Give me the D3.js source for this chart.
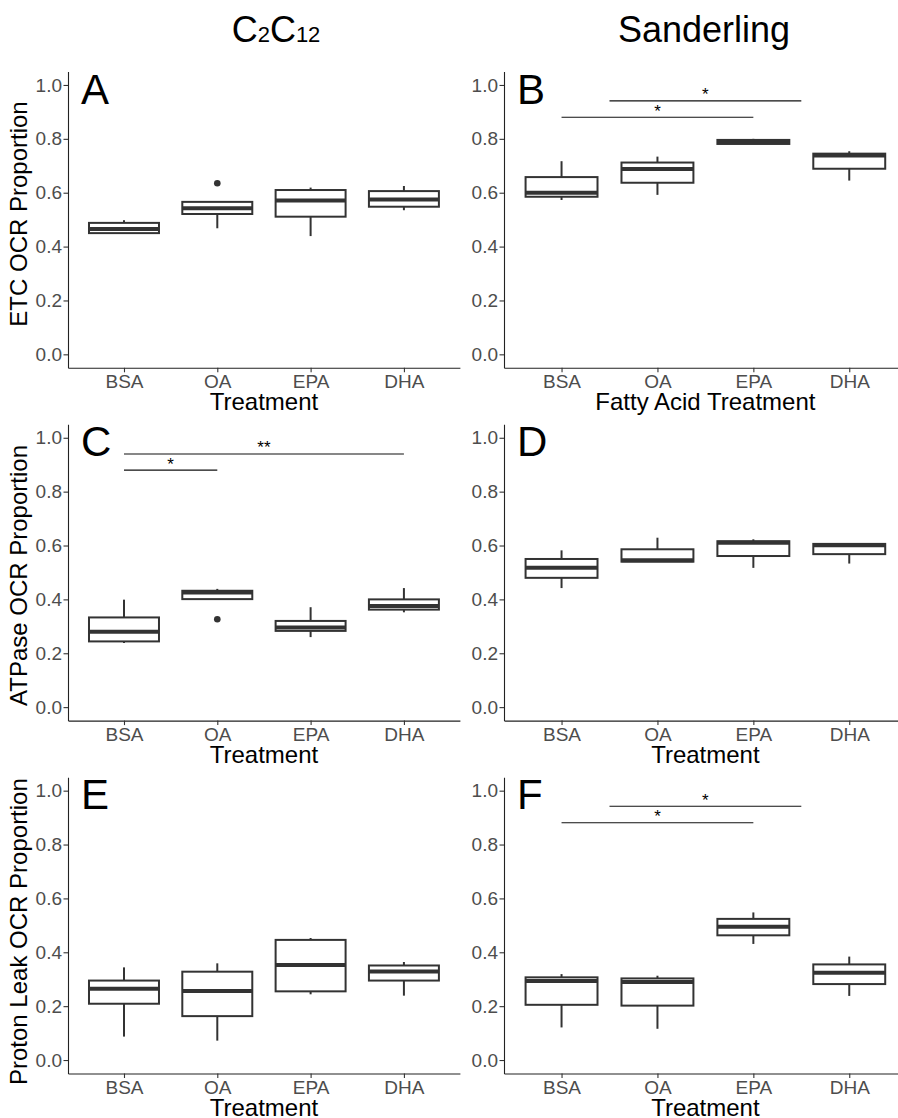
<!DOCTYPE html>
<html>
<head>
<meta charset="utf-8">
<script src="https://cdn.jsdelivr.net/npm/d3@7"></script>
<style>
  body { margin: 0; background: #fff; }
  text { font-family: "Liberation Sans", Arial, sans-serif; }
</style>
</head>
<body>
<script>
// categories and labels
const treatments = ["BSA", "OA", "EPA", "DHA"];
const yTicks = [0, 0.2, 0.4, 0.6, 0.8, 1.0];
const panelLetters = ["A", "B", "C", "D", "E", "F"];
const yTitles = ["ETC OCR Proportion", "ATPase OCR Proportion", "Proton Leak OCR Proportion"];
const xTitles = ["Treatment", "Fatty Acid Treatment", "Treatment", "Treatment", "Treatment", "Treatment"];

// box stats per treatment: [lower whisker, q1, median, q3, upper whisker]
const statsA = [[0.450, 0.450, 0.465, 0.488, 0.498], [0.468, 0.521, 0.542, 0.566, 0.566], [0.439, 0.511, 0.571, 0.610, 0.619], [0.535, 0.548, 0.575, 0.606, 0.625]];
const statsB = [[0.573, 0.585, 0.600, 0.658, 0.717], [0.592, 0.637, 0.688, 0.712, 0.734], [0.781, 0.781, 0.788, 0.796, 0.800], [0.645, 0.689, 0.738, 0.745, 0.754]];
const statsC = [[0.238, 0.244, 0.280, 0.333, 0.399], [0.401, 0.401, 0.426, 0.432, 0.439], [0.260, 0.283, 0.296, 0.320, 0.371], [0.352, 0.362, 0.375, 0.400, 0.442]];
const statsD = [[0.442, 0.480, 0.517, 0.550, 0.582], [0.540, 0.540, 0.545, 0.586, 0.629], [0.517, 0.561, 0.610, 0.616, 0.623], [0.533, 0.568, 0.601, 0.606, 0.606]];
const statsE = [[0.087, 0.209, 0.265, 0.295, 0.344], [0.072, 0.163, 0.256, 0.328, 0.359], [0.244, 0.255, 0.353, 0.446, 0.453], [0.239, 0.295, 0.329, 0.351, 0.364]];
const statsF = [[0.121, 0.205, 0.293, 0.307, 0.319], [0.116, 0.202, 0.290, 0.303, 0.313], [0.431, 0.463, 0.495, 0.524, 0.548], [0.238, 0.282, 0.324, 0.355, 0.384]];

// outliers per treatment
const outA = [[], [0.635], [], []];
const outC = [[], [0.326], [], []];
const none = [[], [], [], []];

// significance brackets: from / to are category indices (0 = BSA)
const sigB = [{ from: 0, to: 2, y: 0.880, label: "*" }, { from: 0.5, to: 2.5, y: 0.941, label: "*" }];
const sigC = [{ from: 0, to: 1, y: 0.880, label: "*" }, { from: 0, to: 3, y: 0.940, label: "**" }];
const sigF = [{ from: 0, to: 2, y: 0.881, label: "*" }, { from: 0.5, to: 2.5, y: 0.942, label: "*" }];

const panels = [
    { stats: statsA, outliers: outA, sig: [] },
    { stats: statsB, outliers: none, sig: sigB },
    { stats: statsC, outliers: outC, sig: sigC },
    { stats: statsD, outliers: none, sig: [] },
    { stats: statsE, outliers: none, sig: [] },
    { stats: statsF, outliers: none, sig: sigF }
];

// layout
const width = 898, height = 1118;
const colRange = [[68, 459.9], [504, 906.8]];
const rowTop = [71.5, 424.3, 777.2];
const panelH = 296.3;
const yTitleCenter = [214, 575.5, 931.6];
const boxColor = "#333333";

const svg = d3.select("body").append("svg")
    .attr("width", width)
    .attr("height", height);

// column titles
const t1 = svg.append("text")
    .attr("x", 276).attr("y", 42)
    .attr("text-anchor", "middle")
    .style("font-size", "36px");
t1.append("tspan").text("C");
t1.append("tspan").style("font-size", "22px").text("2");
t1.append("tspan").text("C");
t1.append("tspan").style("font-size", "22px").text("12");

svg.append("text")
    .attr("x", 704).attr("y", 42)
    .attr("text-anchor", "middle")
    .style("font-size", "36px")
    .text("Sanderling");

panels.forEach((p, i) => {
    const col = i % 2, row = Math.floor(i / 2);
    const top = rowTop[row];
    const bottom = top + panelH;

    const x = d3.scalePoint()
        .domain(treatments)
        .range(colRange[col])
        .padding(0.6);

    const y = d3.scaleLinear()
        .domain([-0.05, 1.05])
        .range([bottom, top]);

    const x0 = colRange[col][0];
    const xAt = k => x(treatments[0]) + k * x.step();
    const bw = x.step() * 0.75;

    const g = svg.append("g");

    // y axis
    const ya = g.append("g")
        .attr("transform", `translate(${x0},0)`)
        .call(d3.axisLeft(y).tickValues(yTicks).tickFormat(d3.format(".1f")).tickSize(4.5).tickSizeOuter(0).tickPadding(1.5));

    // x axis
    const xa = g.append("g")
        .attr("transform", `translate(0,${bottom})`)
        .call(d3.axisBottom(x).tickSize(4.5).tickSizeOuter(0).tickPadding(2.5));

    [ya, xa].forEach(a => {
        a.select(".domain").attr("stroke", "#222").attr("stroke-width", 1.1);
        a.selectAll(".tick line").attr("stroke", "#333").attr("stroke-width", 1.1);
        a.selectAll(".tick text")
            .attr("fill", "#4D4D4D")
            .style("font-size", "19px")
            .style("font-family", "'Liberation Sans', Arial, sans-serif");
    });

    // boxes
    const boxes = g.selectAll(".box")
        .data(p.stats)
        .enter()
        .append("g")
        .attr("transform", (d, k) => `translate(${x(treatments[k])},0)`);

    boxes.append("line")
        .attr("y1", d => y(d[0])).attr("y2", d => y(d[1]))
        .attr("stroke", boxColor).attr("stroke-width", 2);
    boxes.append("line")
        .attr("y1", d => y(d[3])).attr("y2", d => y(d[4]))
        .attr("stroke", boxColor).attr("stroke-width", 2);
    boxes.append("rect")
        .attr("x", -bw / 2)
        .attr("y", d => y(d[3]))
        .attr("width", bw)
        .attr("height", d => y(d[1]) - y(d[3]))
        .attr("fill", "#fff")
        .attr("stroke", boxColor)
        .attr("stroke-width", 2);
    boxes.append("line")
        .attr("x1", -bw / 2).attr("x2", bw / 2)
        .attr("y1", d => y(d[2])).attr("y2", d => y(d[2]))
        .attr("stroke", boxColor).attr("stroke-width", 4);

    // outliers
    p.outliers.forEach((vals, k) => {
        g.selectAll(null)
            .data(vals)
            .enter()
            .append("circle")
            .attr("cx", x(treatments[k]))
            .attr("cy", d => y(d))
            .attr("r", 3.3)
            .attr("fill", boxColor);
    });

    // significance brackets
    g.selectAll(".sig")
        .data(p.sig)
        .enter()
        .append("line")
        .attr("x1", d => xAt(d.from)).attr("x2", d => xAt(d.to))
        .attr("y1", d => y(d.y)).attr("y2", d => y(d.y))
        .attr("stroke", "#111").attr("stroke-width", 1.1);
    g.selectAll(".sigtext")
        .data(p.sig)
        .enter()
        .append("text")
        .attr("x", d => xAt((d.from + d.to) / 2))
        .attr("y", d => y(d.y) - 0.5)
        .attr("text-anchor", "middle")
        .style("font-size", "17px")
        .text(d => d.label);

    // panel letter
    g.append("text")
        .attr("x", x0 + 13)
        .attr("y", top + 32)
        .style("font-size", "42px")
        .text(panelLetters[i]);

    // x title
    g.append("text")
        .attr("x", (colRange[col][0] + colRange[col][1]) / 2)
        .attr("y", bottom + 42.2)
        .attr("text-anchor", "middle")
        .style("font-size", "24px")
        .text(xTitles[i]);

    // y title (left column only)
    if (col === 0) {
        g.append("text")
            .attr("transform", `translate(27,${yTitleCenter[row]}) rotate(-90)`)
            .attr("text-anchor", "middle")
            .style("font-size", "24px")
            .text(yTitles[row]);
    }
});
</script>
</body>
</html>
